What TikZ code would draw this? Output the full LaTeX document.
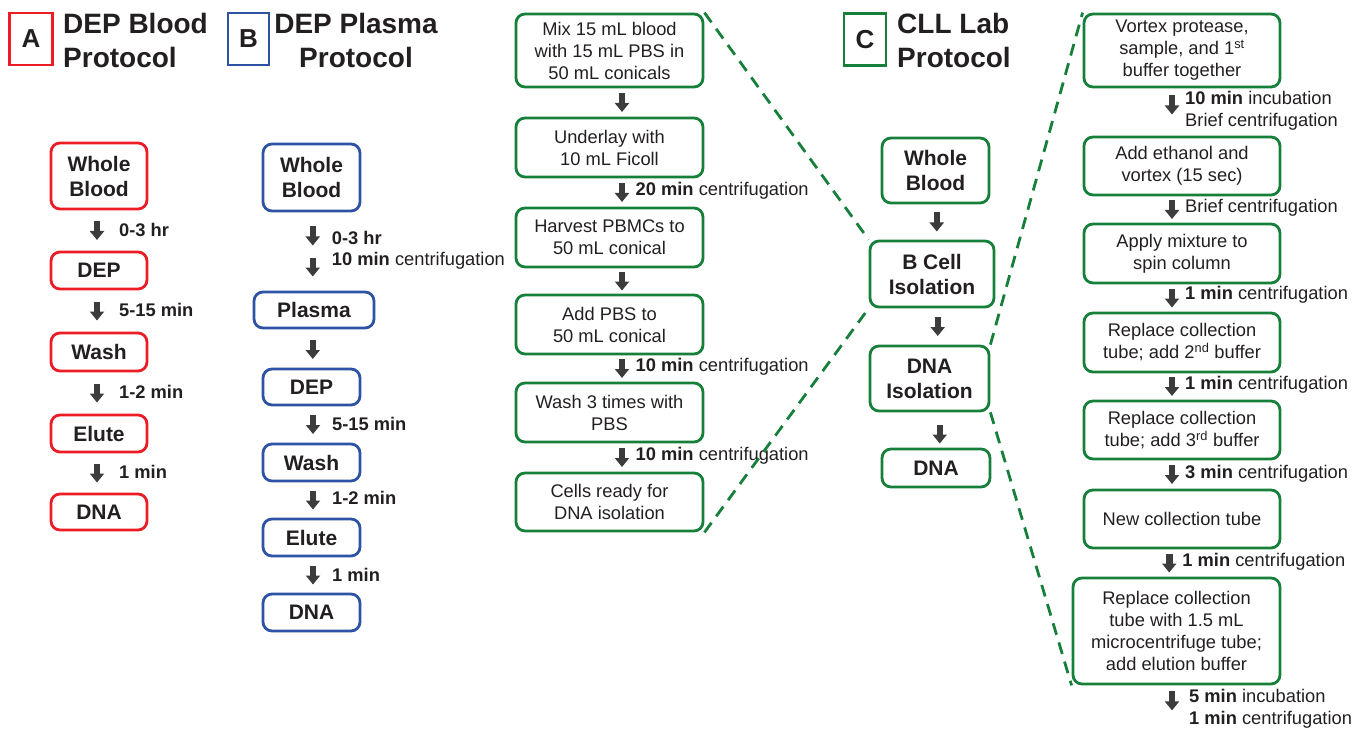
\documentclass[tikz,border=0pt]{standalone}
\usepackage{fontspec}
\setmainfont{Liberation Sans}
\usetikzlibrary{arrows.meta,calc}
\definecolor{redc}{RGB}{237,28,36}
\definecolor{bluec}{RGB}{46,82,164}
\definecolor{greenc}{RGB}{22,128,58}
\definecolor{arrc}{RGB}{60,60,60}
\definecolor{txt}{RGB}{35,31,32}
\newcommand\bodyfont{\fontsize{18.3}{22}\selectfont}
\newcommand\boldboxfont{\bfseries\fontsize{21}{25}\selectfont}
\newcommand\titlefont{\bfseries\fontsize{28}{34}\selectfont}
% arrow between two boxes: from, to, offset of arrow centre from midpoint
\newcommand\flowdn[3]{\draw[blk] ($(#1.south)!.5!(#2.north)+(#3)+(0,-9.5)$) -- ++(0,19);}
% label beside such an arrow: from, to, offset of label west point from midpoint, text
\newcommand\flowtxt[4]{\node[lbl] at ($(#1.south)!.5!(#2.north)+(#3)$) {#4};}
\begin{document}
\begin{tikzpicture}[x=1pt,y=-1pt,
 stepbox/.style={draw, line width=2.8pt, rounded corners=9pt, align=center, inner sep=0pt, text=txt},
 abox/.style={stepbox, draw=redc, font=\boldboxfont},
 bbox/.style={stepbox, draw=bluec, font=\boldboxfont},
 cbox/.style={stepbox, draw=greenc, font=\boldboxfont},
 gbox/.style={stepbox, draw=greenc, font=\bodyfont},
 blk/.style={draw=arrc, line width=6.5pt, -{Triangle[length=9pt,width=14pt]}},
 lbl/.style={anchor=west, inner sep=0pt, text=txt, font=\bodyfont, align=left},
 dashln/.style={draw=greenc, line width=2.8pt, dash pattern=on 12pt off 8pt},
 letterbox/.style={draw, line width=2.5pt, minimum width=43pt, minimum height=52pt, inner sep=0pt, font=\bfseries\fontsize{26}{30}\selectfont, text=txt},
 ttl/.style={inner sep=0pt, font=\titlefont, text=txt}
]
\useasboundingbox (0,0) rectangle (1368,730);

% ---------- titles ----------
\node[letterbox, draw=redc] (boxA) at (31,39) {A};
\node[ttl, anchor=west, align=left] (tA) at (63,40) {DEP Blood\\Protocol};
\node[letterbox, draw=bluec, minimum width=41pt] (boxB) at (248.5,39) {B};
\node[ttl, align=center] (tB) at (356,40) {DEP Plasma\\Protocol};
\node[letterbox, draw=greenc, minimum width=42pt] (boxC) at (865,39.5) {C};
\node[ttl, anchor=west, align=left] (tC) at (897,40) {CLL Lab\\Protocol};

% ---------- A: DEP blood ----------
\node[abox, minimum width=96pt, minimum height=66pt] (aWB) at (99,176) {Whole\\Blood};
\node[abox, minimum width=96pt, minimum height=37pt] (aDEP) at (99,270.5) {DEP};
\node[abox, minimum width=96pt, minimum height=38pt] (aWash) at (99,352) {Wash};
\node[abox, minimum width=96pt, minimum height=37pt] (aElute) at (99,433.5) {Elute};
\node[abox, minimum width=96pt, minimum height=36pt] (aDNA) at (99,512) {DNA};
\flowdn{aWB}{aDEP}{-2,0}   \flowtxt{aWB}{aDEP}{20,-1}{\textbf{0-3 hr}}
\flowdn{aDEP}{aWash}{-2,0} \flowtxt{aDEP}{aWash}{20,-1}{\textbf{5-15 min}}
\flowdn{aWash}{aElute}{-2,0} \flowtxt{aWash}{aElute}{20,-1}{\textbf{1-2 min}}
\flowdn{aElute}{aDNA}{-2,0} \flowtxt{aElute}{aDNA}{20,-1}{\textbf{1 min}}

% ---------- B: DEP plasma ----------
\node[bbox, minimum width=97pt, minimum height=67pt] (bWB) at (311.5,177.5) {Whole\\Blood};
\node[bbox, minimum width=120pt, minimum height=36pt] (bPl) at (314,310) {Plasma};
\node[bbox, minimum width=97pt, minimum height=36pt] (bDEP) at (311.5,387) {DEP};
\node[bbox, minimum width=97pt, minimum height=37pt] (bWash) at (311.5,462.5) {Wash};
\node[bbox, minimum width=97pt, minimum height=37pt] (bElute) at (311.5,537.5) {Elute};
\node[bbox, minimum width=97pt, minimum height=37pt] (bDNA) at (311.5,612.5) {DNA};
\flowdn{bWB}{bPl}{0,-15.5} \flowtxt{bWB}{bPl}{19,-14}{\textbf{0-3 hr}}
\flowdn{bWB}{bPl}{0,15.5}  \flowtxt{bWB}{bPl}{19,9.5}{\textbf{10 min} centrifugation}
\flowdn{bPl}{bDEP}{0,1}
\flowdn{bDEP}{bWash}{1.5,0} \flowtxt{bDEP}{bWash}{20.5,-1}{\textbf{5-15 min}}
\flowdn{bWash}{bElute}{1.5,0} \flowtxt{bWash}{bElute}{20.5,-2}{\textbf{1-2 min}}
\flowdn{bElute}{bDNA}{1.5,0} \flowtxt{bElute}{bDNA}{20.5,0}{\textbf{1 min}}

% ---------- B cell isolation detail ----------
\node[gbox, minimum width=187pt, minimum height=73pt] (m1) at (609.5,50.5) {Mix 15 mL blood\\with 15 mL PBS in\\50 mL conicals};
\node[gbox, minimum width=187pt, minimum height=59pt] (m2) at (609.5,147.5) {Underlay with\\10 mL Ficoll};
\node[gbox, minimum width=187pt, minimum height=59pt] (m3) at (609.5,237.5) {Harvest PBMCs to\\50 mL conical};
\node[gbox, minimum width=187pt, minimum height=59pt] (m4) at (609.5,324.5) {Add PBS to\\50 mL conical};
\node[gbox, minimum width=187pt, minimum height=59pt] (m5) at (609.5,412.5) {Wash 3 times with\\PBS};
\node[gbox, minimum width=187pt, minimum height=58pt] (m6) at (609.5,502) {Cells ready for\\DNA isolation};
\flowdn{m1}{m2}{12.5,0}
\flowdn{m2}{m3}{12.5,0} \flowtxt{m2}{m3}{26,-2}{\textbf{20 min} centrifugation}
\flowdn{m3}{m4}{12.5,0}
\flowdn{m4}{m5}{12.5,0} \flowtxt{m4}{m5}{26,-2}{\textbf{10 min} centrifugation}
\flowdn{m5}{m6}{12.5,0} \flowtxt{m5}{m6}{26,-2}{\textbf{10 min} centrifugation}

% ---------- C: CLL lab ----------
\node[cbox, minimum width=107pt, minimum height=65pt] (cWB) at (935.5,170.5) {Whole\\Blood};
\node[cbox, minimum width=124pt, minimum height=66pt] (cB) at (932,274) {B Cell\\Isolation};
\node[cbox, minimum width=119pt, minimum height=65pt] (cD) at (929.5,378.5) {DNA\\Isolation};
\node[cbox, minimum width=108pt, minimum height=38pt] (cDNA) at (936,468) {DNA};
\flowdn{cWB}{cB}{3,0}
\flowdn{cB}{cD}{7,0}
\flowdn{cD}{cDNA}{7,4}

% ---------- DNA isolation detail ----------
\node[gbox, minimum width=196pt, minimum height=73pt] (r1) at (1182,50.5) {Vortex protease,\\sample, and 1\textsuperscript{st}\\buffer together};
\node[gbox, minimum width=196pt, minimum height=58pt] (r2) at (1182,166) {Add ethanol and\\vortex (15 sec)};
\node[gbox, minimum width=196pt, minimum height=59pt] (r3) at (1182,253.5) {Apply mixture to\\spin column};
\node[gbox, minimum width=196pt, minimum height=59pt] (r4) at (1182,342.5) {Replace collection\\tube; add 2\textsuperscript{nd} buffer};
\node[gbox, minimum width=196pt, minimum height=58pt] (r5) at (1182,430) {Replace collection\\tube; add 3\textsuperscript{rd} buffer};
\node[gbox, minimum width=196pt, minimum height=58pt] (r6) at (1182,519) {New collection tube};
\node[gbox, minimum width=207pt, minimum height=106pt] (r7) at (1176.5,631) {Replace collection\\tube with 1.5 mL\\microcentrifuge tube;\\add elution buffer};
\flowdn{r1}{r2}{-10,-7} \flowtxt{r1}{r2}{3,-1}{\textbf{10 min} incubation\\Brief centrifugation}
\flowdn{r2}{r3}{-10,0}  \flowtxt{r2}{r3}{3,-2}{Brief centrifugation}
\flowdn{r3}{r4}{-10,0}  \flowtxt{r3}{r4}{3,-3}{\textbf{1 min} centrifugation}
\flowdn{r4}{r5}{-10,0}  \flowtxt{r4}{r5}{3,-2}{\textbf{1 min} centrifugation}
\flowdn{r5}{r6}{-10,0}  \flowtxt{r5}{r6}{3,-1}{\textbf{3 min} centrifugation}
\flowdn{r6}{r7}{-10,0}  \flowtxt{r6}{r7}{3,-1}{\textbf{1 min} centrifugation}
\coordinate (rEnd) at ($(r7.south)+(-4.5,25)$);
\draw[blk] ($(rEnd)+(0,-19)$) -- (rEnd);
\node[lbl] (rEndLbl) at ($(r7.south)+(12.5,23.5)$) {\textbf{5 min} incubation\\\textbf{1 min} centrifugation};

% ---------- zoom lines ----------
\draw[dashln] (m1.north east) -- (cB.north west);
\draw[dashln] (m6.south east) -- (cB.south west);
\draw[dashln] (cD.north east) -- (r1.north west);
\draw[dashln] (cD.south east) -- (r7.south west);
\end{tikzpicture}
\end{document}
